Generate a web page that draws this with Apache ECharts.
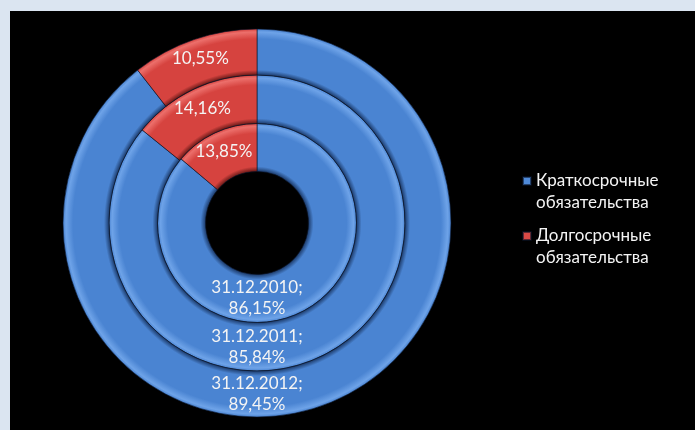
<!DOCTYPE html>
<html>
<head>
<meta charset="utf-8">
<script src="https://cdn.jsdelivr.net/npm/echarts@6/dist/echarts.min.js"></script>
<style>
  html, body { margin: 0; padding: 0; background: #dbe5f1; }
  #chart { position: absolute; left: 10px; top: 11px; width: 685px; height: 419px; background: #000; }
</style>
</head>
<body>
<div id="chart"></div>
<script>
// Structure of liabilities by reporting date (inner ring = earliest)
const reportDates = ['31.12.2010', '31.12.2011', '31.12.2012'];
const shortTermShare = [86.15, 85.84, 89.45];
const longTermShare = [13.85, 14.16, 10.55];
const categoryNames = ['Краткосрочные обязательства', 'Долгосрочные обязательства'];

// Layout
const CX = 247, CY = 212;
const ringEdges = [51.5, 99.5, 148, 194];
const FONT = 'Lato, "Noto Sans", sans-serif';

const palette = {
  blue: { base: '#4a84d2', light: '#6ea3e8', dark: '#1d3c6c' },
  red:  { base: '#d6433f', light: '#ec6f6b', dark: '#6a1a18' }
};

// Bevelled look: dark at the inner edge of a ring, soft highlight near its outer edge
function ringFill(c, r0, r1) {
  const s0 = r0 / r1;
  return {
    type: 'radial', x: CX, y: CY, r: r1, global: true,
    colorStops: [
      { offset: 0, color: c.dark },
      { offset: s0, color: c.dark },
      { offset: s0 + 5 / r1, color: c.base },
      { offset: 1 - 10 / r1, color: c.base },
      { offset: 1 - 3 / r1, color: c.light },
      { offset: 1, color: c.base }
    ]
  };
}

const pct = v => v.toFixed(2).replace('.', ',') + '%';

const series = reportDates.map((date, i) => {
  const r0 = ringEdges[i], r1 = ringEdges[i + 1];
  return {
    type: 'pie',
    name: date,
    center: [CX, CY],
    radius: [r0, r1],
    startAngle: 90,
    clockwise: true,
    silent: true,
    animation: false,
    avoidLabelOverlap: false,
    itemStyle: { borderColor: 'rgba(10,20,40,0.6)', borderWidth: 1 },
    label: {
      show: true,
      position: 'inside',
      color: '#f4f4f4',
      fontFamily: FONT,
      fontSize: 17,
      lineHeight: 21,
      formatter: p => p.dataIndex === 0 ? p.seriesName + ';\n' + pct(p.value) : pct(p.value)
    },
    labelLine: { show: false },
    labelLayout: p => p.dataIndex === 0
      ? { x: CX, y: CY + (r0 + r1) / 2, align: 'center', verticalAlign: 'middle' }
      : {},
    data: [
      { name: categoryNames[0], value: shortTermShare[i], itemStyle: { color: ringFill(palette.blue, r0, r1) } },
      { name: categoryNames[1], value: longTermShare[i], itemStyle: { color: ringFill(palette.red, r0, r1) } }
    ]
  };
});

const chart = echarts.init(document.getElementById('chart'));
chart.setOption({
  backgroundColor: '#000',
  legend: {
    orient: 'vertical',
    left: 507,
    top: 154,
    // square marker sitting level with the first line of a two-line name
    icon: 'path://M0,0H8V8H0Z M8,30',
    itemWidth: 8,
    itemHeight: 30,
    itemGap: 11,
    selectedMode: false,
    data: [
      { name: categoryNames[0], itemStyle: { color: '#4f8ad8' } },
      { name: categoryNames[1], itemStyle: { color: '#d94a46' } }
    ],
    formatter: n => n.replace(' ', '\n'),
    textStyle: { color: '#f4f4f4', fontFamily: FONT, fontSize: 17, lineHeight: 22 }
  },
  series: series
});
</script>
</body>
</html>
